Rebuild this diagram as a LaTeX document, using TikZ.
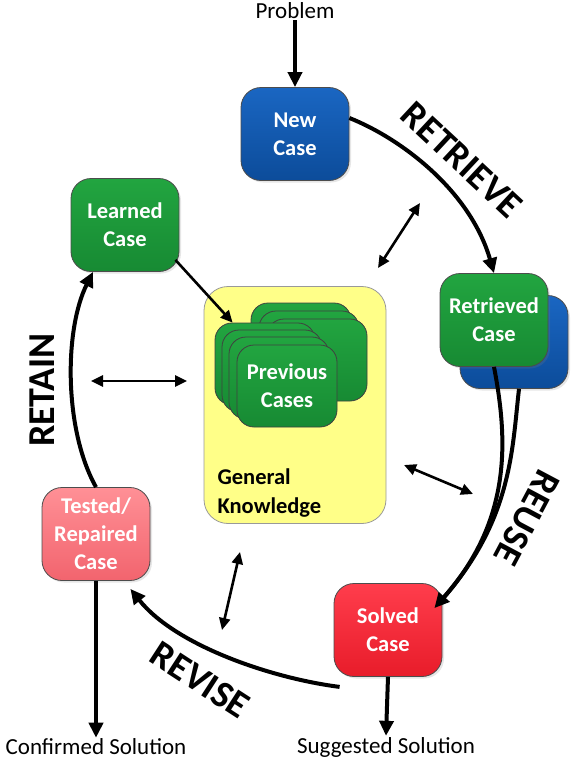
\documentclass[tikz,border=0pt]{standalone}
\usepackage{fontspec}
\setmainfont{Carlito}
\usetikzlibrary{arrows.meta,shadows}

\definecolor{bluetop}{HTML}{1A66C2}
\definecolor{bluebot}{HTML}{0C4C9A}
\definecolor{greentop}{HTML}{22A540}
\definecolor{greenbot}{HTML}{178A33}
\definecolor{redtop}{HTML}{FF3D4C}
\definecolor{redbot}{HTML}{E81C2A}
\definecolor{pinktop}{HTML}{FF9096}
\definecolor{pinkbot}{HTML}{F2646E}
\definecolor{gkyellow}{HTML}{FFFF88}

\begin{document}
\begin{tikzpicture}[x=1pt,y=-1pt,
    casebox/.style={draw=black!70,line width=0.8pt,rounded corners=20pt,
        minimum width=108pt,minimum height=93pt,align=center,text=white,
        font=\bfseries\fontsize{22.5}{28}\selectfont,
        drop shadow={opacity=0.2,shadow xshift=2pt,shadow yshift=-2pt}},
    card/.style={draw=black!75,line width=0.8pt,rounded corners=17pt,
        minimum width=100pt,minimum height=82pt,top color=greentop,bottom color=greenbot,
        align=center,text=white,font=\bfseries\fontsize{22.5}{28}\selectfont},
    blue/.style={top color=bluetop,bottom color=bluebot},
    green/.style={top color=greentop,bottom color=greenbot},
    red/.style={top color=redtop,bottom color=redbot},
    pink/.style={top color=pinktop,bottom color=pinkbot},
    caption/.style={font=\fontsize{23}{27}\selectfont,inner sep=1pt},
    phase/.style={font=\bfseries\fontsize{38}{40}\selectfont,inner sep=0pt},
    flow/.style={line width=4pt,-{Triangle[length=15pt,width=14pt]}},
    link/.style={line width=2.6pt,{Triangle[length=12pt,width=11pt]}-{Triangle[length=12pt,width=11pt]}}]
    \useasboundingbox (0,0) rectangle (580,764);

    % general knowledge
    \node[draw=black!40,line width=0.8pt,fill=gkyellow,rounded corners=24pt,
        minimum width=182pt,minimum height=237pt] (gk) at (295,405) {};
    \node[anchor=west,align=left,font=\bfseries\fontsize{22.5}{29}\selectfont] (gktext) at (214,493) {General\\Knowledge};

    % previous cases
    \foreach \i/\x/\y in {1/301/344,2/309/352,3/317/360}
        \node[card] (q\i) at (\x,\y) {};
    \foreach \i/\x/\y in {1/265/364,2/272/371,3/279/378}
        \node[card] (p\i) at (\x,\y) {};
    \node[card] (p4) at (287,386) {Previous\\Cases};

    % cases
    \node[caption] (problem) at (295,11) {Problem};
    \node[casebox,blue] (new) at (295,134) {New\\Case};
    \node[casebox,blue] (retrback) at (514,342) {};
    \node[casebox,green] (retr) at (494,320) {Retrieved\\Case};
    \node[casebox,red] (solved) at (388,630) {Solved\\Case};
    \node[casebox,pink] (tested) at (96,534) {Tested/\\Repaired\\Case};
    \node[casebox,green] (learned) at (125,225) {Learned\\Case};
    \node[caption] (sugg) at (386,747) {Suggested Solution};
    \node[caption] (conf) at (96,747) {Confirmed Solution};

    % cycle
    \draw[flow] (problem.south) -- (new.north);
    \draw[flow] ([yshift=16pt]new.east) .. controls (400,138) and (470,190) .. (retr.north);
    \draw[line width=4pt,shorten >=12pt] ([xshift=5pt]retrback.south) .. controls (512,450) and (512,520) .. ([xshift=-8pt,yshift=-25pt]solved.north east);
    \draw[flow] (retr.south) .. controls (508,440) and (512,520) .. ([xshift=-8pt,yshift=-25pt]solved.north east);
    \draw[flow] ([xshift=6pt,yshift=-10pt]solved.south west) .. controls (270,678) and (175,645) .. ([xshift=-20pt,yshift=-8pt]tested.south east);
    \draw[flow] (tested.north) .. controls (64,430) and (64,330) .. ([xshift=-32pt]learned.south);
    \draw[flow] (solved.south) -- (sugg.north);
    \draw[flow] (tested.south) -- (conf.north);
    \draw[line width=2.6pt,-{Triangle[length=12pt,width=11pt]}] ([xshift=-4pt,yshift=12pt]learned.south east) -- ([xshift=18pt]p1.north west);

    % links to knowledge
    \coordinate (l1a) at (378,268);
    \coordinate (l1b) at (420,203);
    \coordinate (l2a) at (91,381);
    \coordinate (l2b) at (187,381);
    \coordinate (l3a) at (404,465);
    \coordinate (l3b) at (473,494);
    \coordinate (l4a) at (240,552);
    \coordinate (l4b) at (222,630);
    \draw[link] (l1a) -- (l1b);
    \draw[link] (l2a) -- (l2b);
    \draw[link] (l3a) -- (l3b);
    \draw[link] (l4a) -- (l4b);

    % phases
    \node[phase,rotate=-43] (retrieve) at (462,160) {RETRIEVE};
    \node[phase,rotate=-118] (reuse) at (527,518) {REUSE};
    \node[phase,rotate=-33] (revise) at (200,680) {REVISE};
    \node[phase,rotate=90] (retain) at (42,390) {RETAIN};
\end{tikzpicture}
\end{document}
